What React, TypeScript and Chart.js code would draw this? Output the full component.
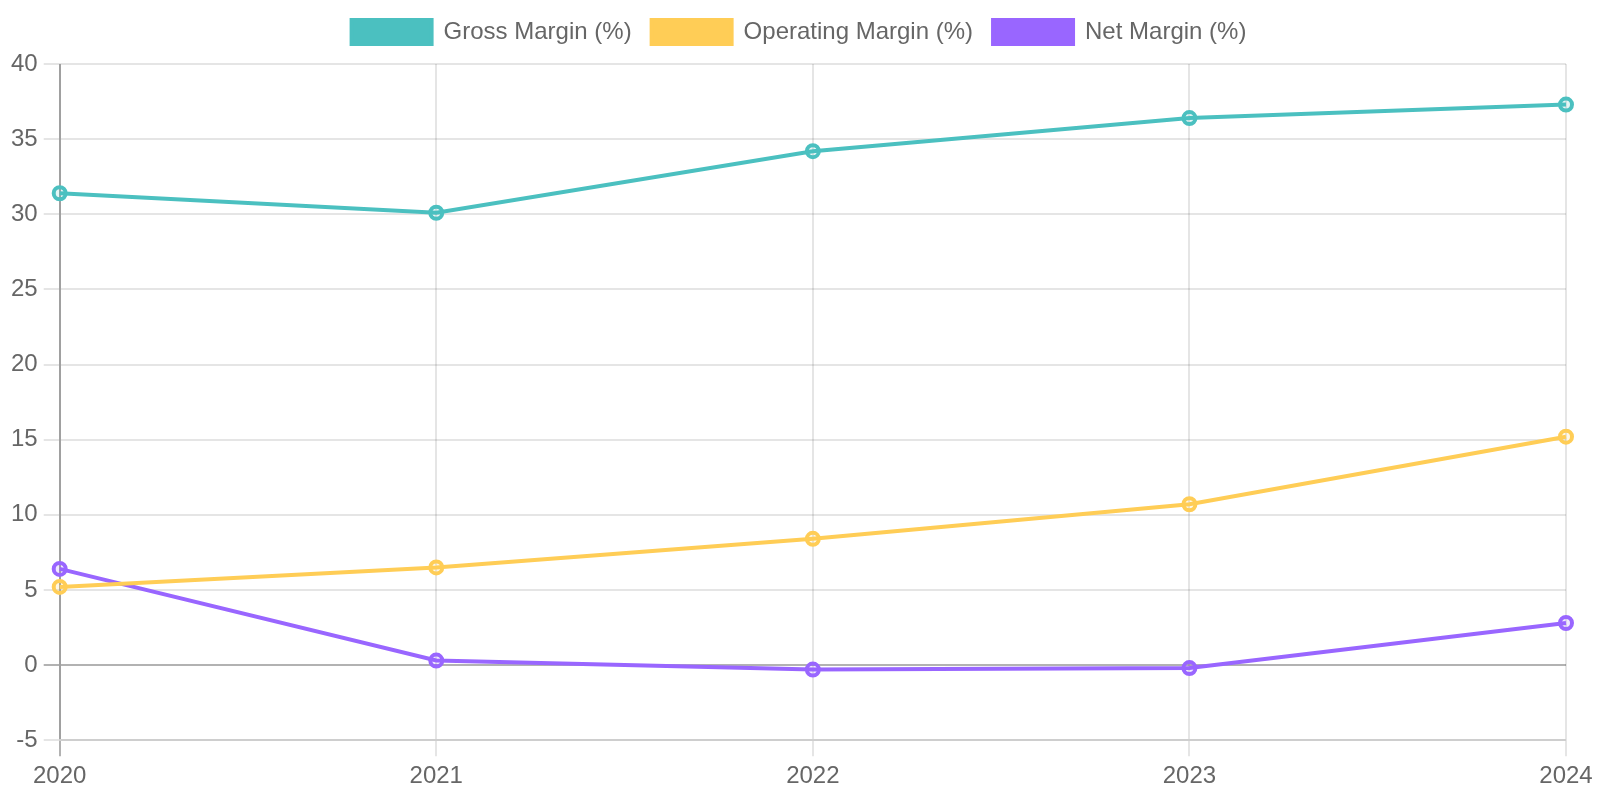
import React, { useEffect, useRef } from "react";
import { Chart, registerables } from "chart.js";

Chart.register(...registerables);

const years = ["2020", "2021", "2022", "2023", "2024"];
const grossMargin = [31.4, 30.1, 34.2, 36.4, 37.3];
const operatingMargin = [5.2, 6.5, 8.4, 10.7, 15.2];
const netMargin = [6.4, 0.3, -0.3, -0.2, 2.8];

const seriesNames = ["Gross Margin (%)", "Operating Margin (%)", "Net Margin (%)"];
const seriesColors = ["75, 192, 192", "255, 205, 86", "153, 102, 255"];

const legendShift = {
  id: "legendShift",
  afterLayout(chart: any) {
    if (chart.legend) {
      chart.legend.left += 6.75;
      chart.legend.right += 6.75;
    }
  },
};

export default function App() {
  const ref = useRef<HTMLCanvasElement | null>(null);

  useEffect(() => {
    if (!ref.current) return;
    const values = [grossMargin, operatingMargin, netMargin];
    const gridColor = (ctx: any) =>
      ctx.tick && ctx.tick.value === 0 ? "rgba(0,0,0,0.3)" : "rgba(0,0,0,0.1)";
    const chart = new Chart(ref.current, {
      type: "line",
      data: {
        labels: years,
        datasets: values.map((v, i) => ({
          label: seriesNames[i],
          data: v,
          borderColor: `rgb(${seriesColors[i]})`,
          backgroundColor: `rgb(${seriesColors[i]})`,
          pointBackgroundColor: `rgba(${seriesColors[i]}, 0.15)`,
          borderWidth: 2,
          pointRadius: 3,
          pointBorderWidth: 2,
          tension: 0,
          fill: false,
        })),
      },
      options: {
        animation: false,
        responsive: true,
        maintainAspectRatio: false,
        devicePixelRatio: 2,
        layout: { padding: { left: 2.5, right: 17, top: 0, bottom: 1.5 } },
        plugins: {
          legend: { position: "top" },
          tooltip: { enabled: false },
        },
        scales: {
          x: {
            grid: { color: gridColor },
          },
          y: {
            min: -5,
            max: 40,
            ticks: { stepSize: 5 },
            grid: { color: gridColor },
          },
        },
      },
      plugins: [legendShift],
    });
    return () => chart.destroy();
  }, []);

  return (
    <div
      style={{
        position: "fixed",
        left: 0,
        top: 0,
        width: 800,
        height: 400,
        transform: "scale(2)",
        transformOrigin: "0 0",
      }}
    >
      <canvas ref={ref} />
    </div>
  );
}
